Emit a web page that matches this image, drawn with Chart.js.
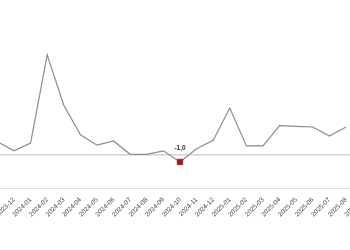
<!DOCTYPE html>
<html>
<head>
<meta charset="utf-8">
<script src="https://cdn.jsdelivr.net/npm/chart.js@4"></script>
<style>
  html, body { margin: 0; padding: 0; background: #fff; overflow: hidden; width: 350px; height: 250px; }
  #wrap { position: relative; width: 350px; height: 250px; overflow: hidden; }
  #chart { position: absolute; left: -20px; top: 0; }
</style>
</head>
<body>
<div id="wrap"><canvas id="chart" width="400" height="250"></canvas></div>
<script>
const months = [
  "2023-11", "2023-12", "2024-01", "2024-02", "2024-03", "2024-04", "2024-05", "2024-06",
  "2024-07", "2024-08", "2024-09", "2024-10", "2024-11", "2024-12", "2025-01", "2025-02",
  "2025-03", "2025-04", "2025-05", "2025-06", "2025-07", "2025-08", "2025-09"
];
// last month is cut off in the picture, its value can't be read
const values = [
  1.9, 0.6, 1.7, 14.3, 7.1, 2.9, 1.4, 2.0,
  0.1, 0.1, 0.6, -1.0, 0.9, 2.1, 6.7, 1.3,
  1.3, 4.2, 4.1, 4.0, 2.7, 4.0, null
];
// the one point that is marked and labelled
const markedMonth = "2024-10";
const markedText = "-1,0";

const markedIndex = months.indexOf(markedMonth);

const markLabel = {
  id: "markLabel",
  afterDatasetsDraw(chart) {
    const pt = chart.getDatasetMeta(0).data[markedIndex];
    if (!pt) return;
    const ctx = chart.ctx;
    ctx.save();
    ctx.font = "bold 6.5px 'Liberation Sans', Arial, sans-serif";
    ctx.fillStyle = "#333";
    ctx.textAlign = "center";
    ctx.textBaseline = "bottom";
    ctx.fillText(markedText, pt.x, pt.y - 11);
    ctx.restore();
  }
};

new Chart(document.getElementById("chart").getContext("2d"), {
  type: "line",
  data: {
    labels: months,
    datasets: [{
      data: values,
      borderColor: "#8c8c8c",
      borderWidth: 1.2,
      tension: 0,
      pointRadius: (c) => (c.dataIndex === markedIndex ? 4 : 0),
      pointStyle: "rect",
      pointBackgroundColor: "#a3141c",
      pointBorderColor: "#7d0d12",
      pointBorderWidth: 0.5
    }]
  },
  options: {
    responsive: false,
    animation: false,
    devicePixelRatio: 1,
    layout: { padding: { left: 17.4, right: 17.4, top: 43, bottom: 0 } },
    plugins: { legend: { display: false }, tooltip: { enabled: false } },
    scales: {
      x: {
        offset: false,
        grid: { display: false },
        border: { display: true, color: "#e0e0e0", width: 1 },
        ticks: {
          autoSkip: false,
          minRotation: 45,
          maxRotation: 45,
          padding: 0,
          color: "#444",
          font: { family: "'Liberation Sans', Arial, sans-serif", size: 6.5 }
        },
        afterFit(scale) {
          scale.paddingLeft = 0;
          scale.paddingRight = 0;
          scale.height = 62;
        }
      },
      y: {
        min: -33 / 7,
        max: 16,
        afterBuildTicks(scale) { scale.ticks = [{ value: 0 }]; },
        grid: { color: "#d4d4d4", lineWidth: 1.5, drawTicks: false },
        border: { display: false },
        ticks: { display: false },
        afterFit(scale) { scale.width = 0; }
      }
    }
  },
  plugins: [markLabel]
});
</script>
</body>
</html>
